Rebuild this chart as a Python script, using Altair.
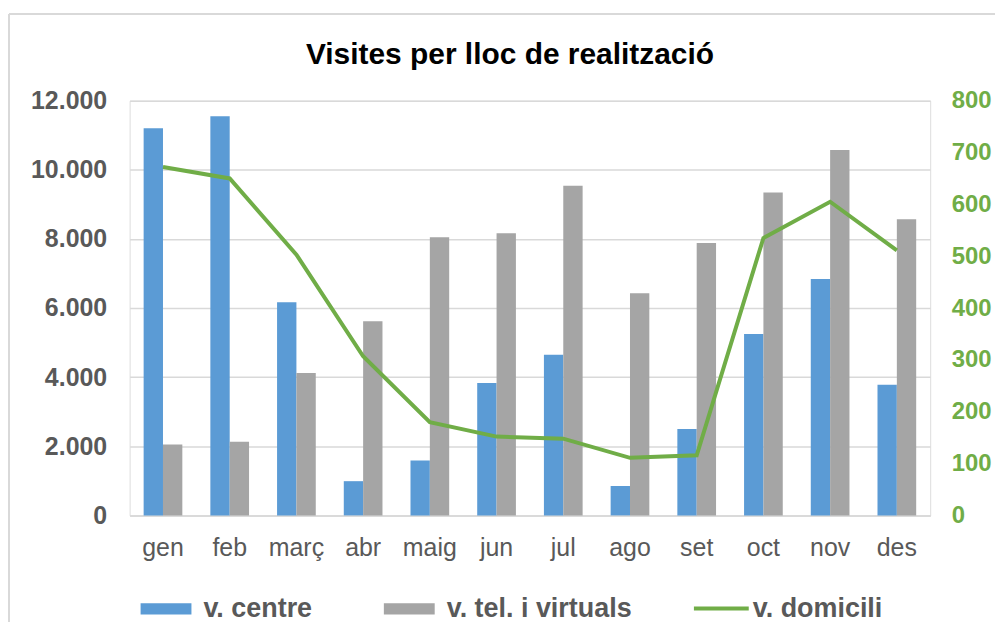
import altair as alt
import pandas as pd

months = ["gen", "feb", "març", "abr", "maig", "jun", "jul", "ago", "set", "oct", "nov", "des"]
centre = [11200, 11550, 6170, 990, 1590, 3830, 4650, 850, 2500, 5250, 6840, 3780]
tel_virtuals = [2050, 2130, 4120, 5620, 8050, 8160, 9540, 6430, 7880, 9340, 10570, 8570]
domicili = [672, 650, 503, 307, 180, 152, 148, 111, 116, 535, 605, 511]

bar_series = ["v. centre", "v. tel. i virtuals"]
line_series = "v. domicili"
left_ticks = [0, 2000, 4000, 6000, 8000, 10000, 12000]
right_ticks = [0, 100, 200, 300, 400, 500, 600, 700, 800]

FONT = "Liberation Sans"
W, H = 803, 416
PAD = {"left": 122, "top": 92, "right": 65, "bottom": 107}

bars_df = pd.DataFrame(
    [{"mes": m, "serie": bar_series[0], "valor": v} for m, v in zip(months, centre)]
    + [{"mes": m, "serie": bar_series[1], "valor": v} for m, v in zip(months, tel_virtuals)]
)
line_df = pd.DataFrame({"mes": months, "serie": line_series, "valor": domicili})

xscale = alt.Scale(paddingInner=0.42, paddingOuter=0.21)
xenc = alt.X("mes:N", sort=months, scale=xscale,
             axis=alt.Axis(title=None, labelFont=FONT, labelFontSize=25, labelColor="#595959",
                           labelPadding=20, ticks=False, domain=True, domainColor="#d9d9d9",
                           domainWidth=1.5, labelAngle=0, grid=False))

rect_path = "M-1,-0.22L1,-0.22L1,0.22L-1,0.22Z"

bars = alt.Chart(bars_df).mark_bar().encode(
    x=xenc,
    xOffset=alt.XOffset("serie:N", sort=bar_series),
    y=alt.Y("valor:Q", scale=alt.Scale(domain=[0, 12000], nice=False),
            axis=alt.Axis(title=None, values=left_ticks,
                          labelExpr="replace(format(datum.value, ','), ',', '.')",
                          labelFont=FONT, labelFontSize=25, labelFontWeight="bold",
                          labelColor="#595959", labelPadding=23, ticks=False, domain=False,
                          grid=True, gridColor="#d9d9d9", gridWidth=1.5)),
    fill=alt.Fill("serie:N", scale=alt.Scale(domain=bar_series, range=["#5b9bd5", "#a5a5a5"]),
                  legend=alt.Legend(title=None, orient="none", legendX=11, legendY=484,
                                    direction="horizontal", symbolType=rect_path, symbolSize=2601,
                                    symbolStrokeWidth=0, labelFont=FONT, labelFontSize=27,
                                    labelFontWeight="bold", labelColor="#595959", labelOffset=12,
                                    labelLimit=400, columnPadding=71, padding=0)),
)

line = alt.Chart(line_df).mark_line(strokeWidth=4).encode(
    x=alt.X("mes:N", sort=months),
    y=alt.Y("valor:Q", scale=alt.Scale(domain=[0, 800], nice=False),
            axis=alt.Axis(title=None, orient="right", values=right_ticks,
                          labelFont=FONT, labelFontSize=24, labelFontWeight="bold",
                          labelColor="#70ad47", labelPadding=21, ticks=False, domain=False,
                          grid=False)),
    stroke=alt.Stroke("serie:N", scale=alt.Scale(domain=[line_series], range=["#70ad47"]),
                      legend=alt.Legend(title=None, orient="none", legendX=564, legendY=480,
                                        symbolType="stroke", symbolSize=3025, symbolStrokeWidth=4,
                                        labelFont=FONT, labelFontSize=27, labelFontWeight="bold",
                                        labelColor="#595959", labelOffset=2, labelLimit=400,
                                        padding=0)),
)

frame_df = pd.DataFrame({"k": [0]})
left_border = alt.Chart(frame_df).mark_rule(color="#d9d9d9", strokeWidth=2).encode(
    x=alt.value(-PAD["left"] + 1), y=alt.value(-PAD["top"] + 5), y2=alt.value(H + PAD["bottom"])
)
top_border = alt.Chart(frame_df).mark_rule(color="#d9d9d9", strokeWidth=2).encode(
    x=alt.value(-PAD["left"] + 1), x2=alt.value(W + PAD["right"]), y=alt.value(-PAD["top"] + 5)
)

chart = alt.layer(bars, line, left_border, top_border).resolve_scale(
    y="independent"
).properties(
    width=W, height=H, padding=PAD,
    autosize=alt.AutoSizeParams(type="none"),
    title=alt.TitleParams("Visites per lloc de realització", font=FONT, fontSize=30,
                          fontWeight="bold", color="#000000", anchor="middle",
                          frame="group", offset=-57, dx=-20),
).configure_view(stroke=None).configure(background="white")

chart.save("out.html", embed_options={"renderer": "svg", "actions": False})
